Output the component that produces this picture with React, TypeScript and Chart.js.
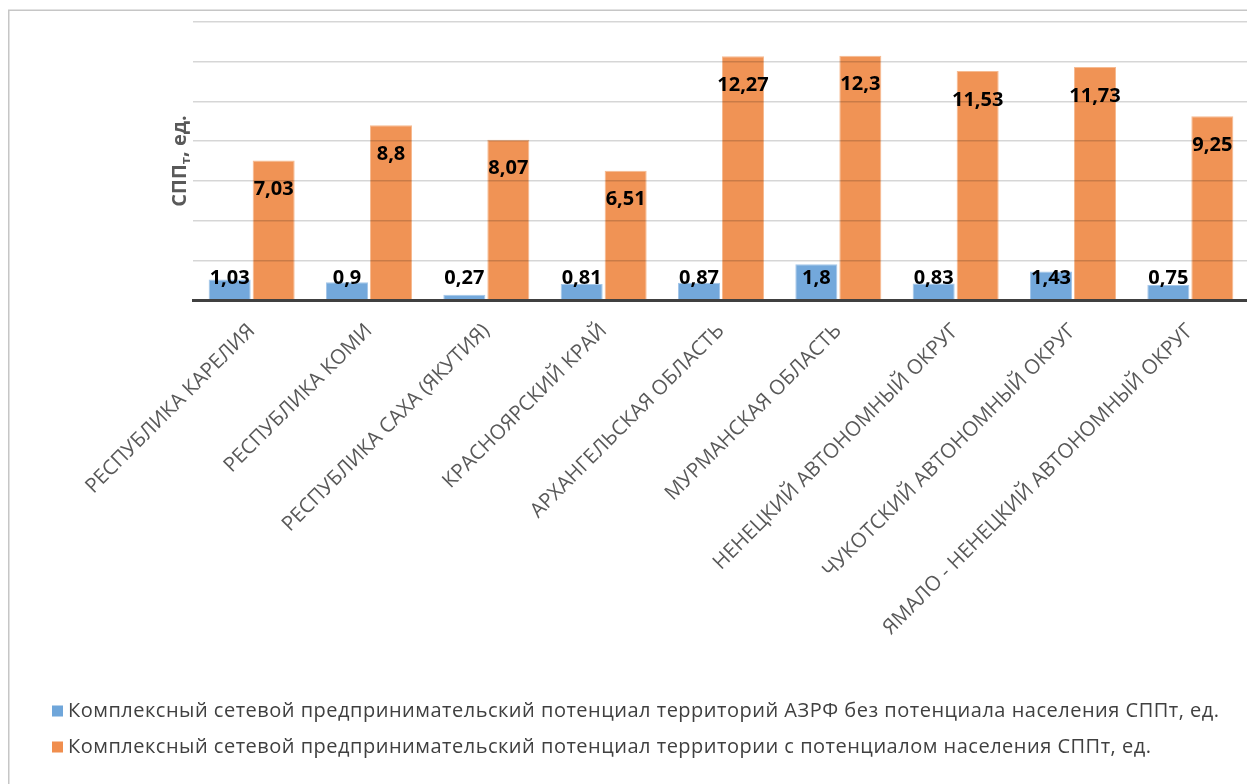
import React, { useEffect, useRef } from "react";
import { Chart, registerables } from "chart.js";

Chart.register(...registerables);

const categories = [
  "РЕСПУБЛИКА КАРЕЛИЯ",
  "РЕСПУБЛИКА КОМИ",
  "РЕСПУБЛИКА САХА (ЯКУТИЯ)",
  "КРАСНОЯРСКИЙ КРАЙ",
  "АРХАНГЕЛЬСКАЯ ОБЛАСТЬ",
  "МУРМАНСКАЯ ОБЛАСТЬ",
  "НЕНЕЦКИЙ АВТОНОМНЫЙ ОКРУГ",
  "ЧУКОТСКИЙ АВТОНОМНЫЙ ОКРУГ",
  "ЯМАЛО - НЕНЕЦКИЙ АВТОНОМНЫЙ ОКРУГ",
];
const seriesWithout = [1.03, 0.9, 0.27, 0.81, 0.87, 1.8, 0.83, 1.43, 0.75];
const seriesWith = [7.03, 8.8, 8.07, 6.51, 12.27, 12.3, 11.53, 11.73, 9.25];
const seriesNames = [
  "Комплексный сетевой предпринимательский потенциал территорий АЗРФ без потенциала населения СППт, ед.",
  "Комплексный сетевой предпринимательский потенциал территории с потенциалом населения СППт, ед.",
];
const yTitleMain = "СПП";
const yTitleSub = "т";
const yTitleRest = ", ед.";
const yMin = 0;
const yMax = 14;
const yStep = 2;

const W = 1247;
const H = 776;
const FONT = "'Open Sans', 'DejaVu Sans', sans-serif";
const BLUE = "rgba(104, 161, 216, 0.93)";
const BLUE_BORDER = "rgba(160, 196, 232, 0.95)";
const ORANGE = "rgba(239, 139, 72, 0.93)";
const ORANGE_BORDER = "rgba(246, 183, 140, 0.95)";

const fmt = (v: number) => String(v).replace(".", ",");

const decorPlugin = {
  id: "decor",
  afterDraw(chart: any) {
    const ctx = chart.ctx as CanvasRenderingContext2D;
    const area = chart.chartArea;
    const yScale = chart.scales.y;
    ctx.save();

    // outer border (left + top)
    ctx.strokeStyle = "#c6c6c6";
    ctx.lineWidth = 1.5;
    ctx.beginPath();
    ctx.moveTo(0.75, H);
    ctx.lineTo(0.75, 2.25);
    ctx.lineTo(W, 2.25);
    ctx.stroke();

    // data labels
    ctx.fillStyle = "#000";
    ctx.font = `bold 20px ${FONT}`;
    ctx.textAlign = "center";
    ctx.textBaseline = "middle";
    const m0 = chart.getDatasetMeta(0);
    const m1 = chart.getDatasetMeta(1);
    const blueY = yScale.getPixelForValue(1.1);
    m0.data.forEach((bar: any, i: number) => {
      ctx.fillText(fmt(seriesWithout[i]), bar.x, blueY);
    });
    m1.data.forEach((bar: any, i: number) => {
      ctx.fillText(fmt(seriesWith[i]), bar.x, bar.y + 29);
    });

    // y title with subscript
    ctx.fillStyle = "#595959";
    const cy = (area.top + area.bottom) / 2;
    ctx.translate(170, cy);
    ctx.rotate(-Math.PI / 2);
    ctx.textAlign = "left";
    ctx.textBaseline = "alphabetic";
    const fMain = `bold 20px ${FONT}`;
    const fSub = `bold 13px ${FONT}`;
    ctx.font = fMain;
    const w1 = ctx.measureText(yTitleMain).width;
    const w3 = ctx.measureText(yTitleRest).width;
    ctx.font = fSub;
    const w2 = ctx.measureText(yTitleSub).width;
    const total = w1 + w2 + w3;
    let x = -total / 2;
    const base = 8;
    ctx.font = fMain;
    ctx.fillText(yTitleMain, x, base);
    x += w1;
    ctx.font = fSub;
    ctx.fillText(yTitleSub, x, base + 4);
    x += w2;
    ctx.font = fMain;
    ctx.fillText(yTitleRest, x, base);
    ctx.restore();

    // legend
    ctx.save();
    ctx.font = `20px ${FONT}`;
    (ctx as any).letterSpacing = "0.5px";
    ctx.textAlign = "left";
    ctx.textBaseline = "middle";
    const rows = [703, 739];
    const colors = ["#6fa6da", "#f08e4e"];
    seriesNames.forEach((name, i) => {
      ctx.fillStyle = colors[i];
      ctx.fillRect(44, rows[i] - 5.5, 11, 11);
      ctx.fillStyle = "#404040";
      ctx.fillText(name, 60, rows[i]);
    });
    ctx.restore();
  },
};

export default function App() {
  const ref = useRef<HTMLCanvasElement | null>(null);
  useEffect(() => {
    if (!ref.current) return;
    const chart = new Chart(ref.current, {
      type: "bar",
      data: {
        labels: categories,
        datasets: [
          {
            label: seriesNames[0],
            data: seriesWithout,
            backgroundColor: BLUE,
            borderColor: BLUE_BORDER,
            borderWidth: 1,
            categoryPercentage: 0.75,
            barPercentage: 0.955,
          },
          {
            label: seriesNames[1],
            data: seriesWith,
            backgroundColor: ORANGE,
            borderColor: ORANGE_BORDER,
            borderWidth: 1,
            categoryPercentage: 0.75,
            barPercentage: 0.955,
          },
        ],
      },
      options: {
        responsive: false,
        animation: false,
        devicePixelRatio: 1,
        layout: { padding: { left: 185, right: 6, top: 14, bottom: 0 } },
        plugins: {
          legend: { display: false },
          tooltip: { enabled: false },
          title: { display: false },
        },
        scales: {
          x: {
            grid: { display: false },
            border: { display: true, color: "#404040", width: 3, z: 2 },
            ticks: {
              autoSkip: false,
              minRotation: 45,
              maxRotation: 45,
              color: "#595959",
              font: { family: FONT, size: 20.5 },
              padding: 11,
              labelOffset: 0,
            },
            afterFit: (s: any) => {
              s.height = H - 292;
            },
          },
          y: {
            min: yMin,
            max: yMax,
            ticks: { display: false, stepSize: yStep },
            border: { display: false },
            grid: { color: "rgba(0,0,0,0.16)", lineWidth: 1.5, drawTicks: false, z: 1 },
            afterFit: (s: any) => {
              s.width = 0;
            },
          },
        },
      },
      plugins: [decorPlugin],
    });
    return () => chart.destroy();
  }, []);
  return (
    <div style={{ width: W, height: H }}>
      <canvas ref={ref} width={W} height={H} style={{ display: "block", width: W, height: H }} />
    </div>
  );
}
